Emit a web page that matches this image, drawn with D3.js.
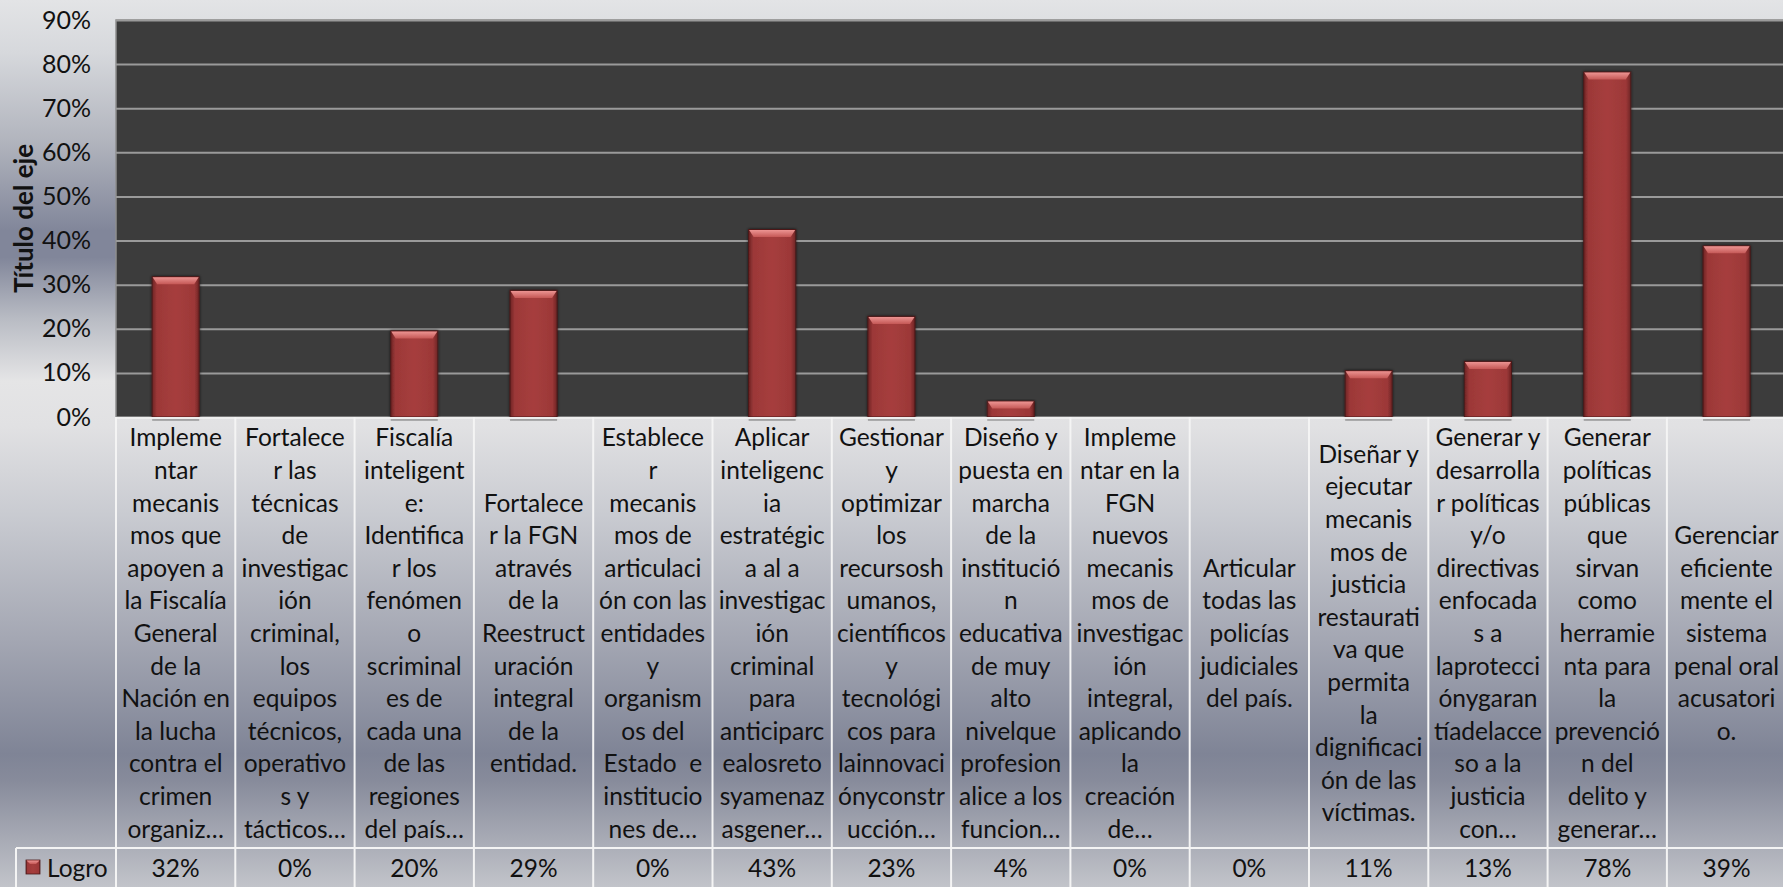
<!doctype html>
<html lang="es">
<head>
<meta charset="utf-8">
<title>Logro</title>
<style>
  body { margin: 0; background: #dcdde0; }
  svg { display: block; }
  text { font-family: Lato, "Open Sans", sans-serif; fill: #111; }
</style>
</head>
<body>
<svg id="chart"></svg>
<script src="https://cdn.jsdelivr.net/npm/d3@7"></script>
<script>
// category labels, already wrapped the way the original table shows them
var categories = [
  ["Impleme","ntar","mecanis","mos que","apoyen a","la Fiscalía","General","de la","Nación en","la lucha","contra el","crimen","organiz…"],
  ["Fortalece","r las","técnicas","de","investigac","ión","criminal,","los","equipos","técnicos,","operativo","s y","tácticos…"],
  ["Fiscalía","inteligent","e:","Identifica","r los","fenómen","o","scriminal","es de","cada una","de las","regiones","del país…"],
  ["Fortalece","r la FGN","através","de la","Reestruct","uración","integral","de la","entidad."],
  ["Establece","r","mecanis","mos de","articulaci","ón con las","entidades","y","organism","os del","Estado  e","institucio","nes de…"],
  ["Aplicar","inteligenc","ia","estratégic","a al a","investigac","ión","criminal","para","anticiparc","ealosreto","syamenaz","asgener…"],
  ["Gestionar","y","optimizar","los","recursosh","umanos,","científicos","y","tecnológi","cos para","lainnovaci","ónyconstr","ucción…"],
  ["Diseño y","puesta en","marcha","de la","institució","n","educativa","de muy","alto","nivelque","profesion","alice a los","funcion…"],
  ["Impleme","ntar en la","FGN","nuevos","mecanis","mos de","investigac","ión","integral,","aplicando","la","creación","de…"],
  ["Articular","todas las","policías","judiciales","del país."],
  ["Diseñar y","ejecutar","mecanis","mos de","justicia","restaurati","va que","permita","la","dignificaci","ón de las","víctimas."],
  ["Generar y","desarrolla","r políticas","y/o","directivas","enfocada","s a","laprotecci","ónygaran","tíadelacce","so a la","justicia","con…"],
  ["Generar","políticas","públicas","que","sirvan","como","herramie","nta para","la","prevenció","n del","delito y","generar…"],
  ["Gerenciar","eficiente","mente el","sistema","penal oral","acusatori","o."]
];
var logro = [0.318, 0, 0.195, 0.287, 0, 0.425, 0.228, 0.036, 0, 0, 0.105, 0.126, 0.782, 0.388];
var yTicks = [0, 0.1, 0.2, 0.3, 0.4, 0.5, 0.6, 0.7, 0.8, 0.9];
var seriesName = "Logro";
var axisTitle = "Título del eje";

var width = 1783, height = 887;
var plotLeft = 116, plotTop = 20, plotBottom = 417;
var colW = 119.3;
var plotRight = plotLeft + colW * categories.length;
var tableRowY = 848;
var lineH = 32.6;
var fontSize = 24.5;

var svg = d3.select("#chart").attr("width", width).attr("height", height);
var defs = svg.append("defs");

// chart background gradient
var bg = defs.append("linearGradient").attr("id", "bg")
  .attr("x1", 0).attr("y1", 0).attr("x2", 0).attr("y2", 1);
[[0, "#e3e4e6"], [0.06, "#d6d8dc"], [0.16, "#b1b4bd"], [0.26, "#81869a"], [0.29, "#81869a"],
 [0.36, "#b9bcc4"], [0.43, "#e5e5e6"], [0.48, "#e1e1e3"], [0.58, "#c9cbd1"], [0.72, "#a4a7b3"],
 [0.85, "#7f8496"], [0.88, "#878b9b"], [1, "#c2c4ca"]].forEach(function(s) {
  bg.append("stop").attr("offset", s[0]).attr("stop-color", s[1]);
});

var barGrad = defs.append("linearGradient").attr("id", "barGrad")
  .attr("x1", 0).attr("y1", 0).attr("x2", 1).attr("y2", 0);
[[0, "#6e2424"], [0.1, "#9c3838"], [0.5, "#a63e3d"], [0.9, "#9c3838"], [1, "#6e2424"]].forEach(function(s) {
  barGrad.append("stop").attr("offset", s[0]).attr("stop-color", s[1]);
});
var bevelGrad = defs.append("linearGradient").attr("id", "bevelGrad")
  .attr("x1", 0).attr("y1", 0).attr("x2", 0).attr("y2", 1);
[[0, "#ec9492"], [1, "#c55856"]].forEach(function(s) {
  bevelGrad.append("stop").attr("offset", s[0]).attr("stop-color", s[1]);
});
var shadow = defs.append("filter").attr("id", "shadow")
  .attr("x", -0.3).attr("y", -0.1).attr("width", 1.6).attr("height", 1.2);
shadow.append("feDropShadow").attr("dx", 0).attr("dy", 0).attr("stdDeviation", 1.5)
  .attr("flood-color", "#000").attr("flood-opacity", 0.7);

svg.append("rect").attr("width", width).attr("height", height).attr("fill", "url(#bg)");

var x = d3.scaleBand()
  .domain(d3.range(categories.length))
  .range([plotLeft, plotRight])
  .padding(0);

var y = d3.scaleLinear()
  .domain([0, 0.9])
  .range([plotBottom, plotTop]);

// plot area
svg.append("rect")
  .attr("x", plotLeft).attr("y", plotTop)
  .attr("width", plotRight - plotLeft).attr("height", plotBottom - plotTop)
  .attr("fill", "#3c3c3c")
  .attr("stroke", "#8e8e8e").attr("stroke-width", 1.5);

// gridlines
var grid = svg.append("g")
  .attr("transform", "translate(" + plotLeft + ",0)")
  .call(d3.axisLeft(y).tickValues(yTicks.slice(1)).tickSize(-(plotRight - plotLeft)).tickFormat(""));
grid.select(".domain").remove();
grid.selectAll("line").attr("stroke", "#9a9a9a").attr("stroke-width", 2);

// y axis labels
var yAxis = svg.append("g")
  .attr("transform", "translate(" + (plotLeft - 25) + ",0)")
  .call(d3.axisLeft(y).tickValues(yTicks).tickSize(0).tickPadding(0).tickFormat(d3.format(".0%")));
yAxis.select(".domain").remove();
yAxis.selectAll("text")
  .style("font-family", "Lato, sans-serif")
  .style("font-size", "25px")
  .attr("fill", "#111");

svg.append("text")
  .attr("transform", "translate(23," + ((plotTop + plotBottom) / 2) + ") rotate(-90)")
  .attr("text-anchor", "middle")
  .attr("dominant-baseline", "central")
  .style("font-size", "26px")
  .style("font-weight", "bold")
  .text(axisTitle);

// bars
var bw = x.bandwidth() * 0.394;
var bars = svg.append("g").selectAll("g")
  .data(logro.map(function(v, i) { return {v: v, i: i}; }).filter(function(d) { return d.v > 0; }))
  .join("g");

bars.append("rect")
  .attr("x", function(d) { return x(d.i) + x.bandwidth() / 2 - bw / 2; })
  .attr("y", plotBottom + 1)
  .attr("width", bw).attr("height", 3)
  .attr("fill", "#8a8a8a").attr("opacity", 0.6);

bars.append("rect")
  .attr("x", function(d) { return x(d.i) + x.bandwidth() / 2 - bw / 2; })
  .attr("y", function(d) { return y(d.v); })
  .attr("width", bw)
  .attr("height", function(d) { return y(0) - y(d.v); })
  .attr("fill", "url(#barGrad)")
  .attr("stroke", "#4d1a1a").attr("stroke-width", 1)
  .attr("filter", "url(#shadow)");

bars.append("path")
  .attr("d", function(d) {
    var x0 = x(d.i) + x.bandwidth() / 2 - bw / 2, x1 = x0 + bw, t = y(d.v) + 0.5, b = 7;
    return "M" + (x0 + 0.5) + "," + t + "L" + (x1 - 0.5) + "," + t +
      "L" + (x1 - 5) + "," + (t + b) + "L" + (x0 + 5) + "," + (t + b) + "Z";
  })
  .attr("fill", "url(#bevelGrad)");

// data table
var table = svg.append("g");
table.append("line")
  .attr("x1", plotLeft).attr("x2", plotRight)
  .attr("y1", plotBottom + 1).attr("y2", plotBottom + 1)
  .attr("stroke", "#eeeeee").attr("stroke-width", 2);
table.append("line")
  .attr("x1", 16).attr("x2", plotRight)
  .attr("y1", tableRowY).attr("y2", tableRowY)
  .attr("stroke", "#f4f4f4").attr("stroke-width", 2);
table.append("line")
  .attr("x1", 16).attr("x2", 16)
  .attr("y1", tableRowY).attr("y2", height)
  .attr("stroke", "#f4f4f4").attr("stroke-width", 2);
table.selectAll("line.col")
  .data(d3.range(categories.length + 1))
  .join("line").attr("class", "col")
  .attr("x1", function(i) { return plotLeft + i * x.step(); })
  .attr("x2", function(i) { return plotLeft + i * x.step(); })
  .attr("y1", plotBottom).attr("y2", height)
  .attr("stroke", "#f4f4f4").attr("stroke-width", 2);

var midY = (plotBottom + tableRowY) / 2 + 1;
var labels = table.selectAll("text.cat")
  .data(categories)
  .join("text").attr("class", "cat")
  .attr("text-anchor", "middle")
  .style("font-size", fontSize + "px");
labels.each(function(lines, i) {
  var cx = x(i) + x.bandwidth() / 2;
  var y0 = midY - (lines.length - 1) * lineH / 2;
  d3.select(this).selectAll("tspan")
    .data(lines)
    .join("tspan")
    .attr("x", cx)
    .attr("y", function(d, k) { return y0 + k * lineH; })
    .attr("dy", "0.35em")
    .style("white-space", "pre")
    .text(function(d) { return d; });
});

table.selectAll("text.val")
  .data(logro)
  .join("text").attr("class", "val")
  .attr("x", function(d, i) { return x(i) + x.bandwidth() / 2; })
  .attr("y", 868).attr("dy", "0.35em")
  .attr("text-anchor", "middle")
  .style("font-size", fontSize + "px")
  .text(function(d) { return Math.round(d * 100) + "%"; });

// legend key
table.append("rect")
  .attr("x", 26).attr("y", 860).attr("width", 14).attr("height", 14)
  .attr("fill", "url(#barGrad)").attr("stroke", "#4d1a1a").attr("stroke-width", 0.8);
table.append("path")
  .attr("d", "M26.5,860.5L39.5,860.5L36,864L30,864Z")
  .attr("fill", "url(#bevelGrad)");
table.append("text")
  .attr("x", 47).attr("y", 868).attr("dy", "0.35em")
  .style("font-size", fontSize + "px")
  .text(seriesName);
</script>
</body>
</html>
